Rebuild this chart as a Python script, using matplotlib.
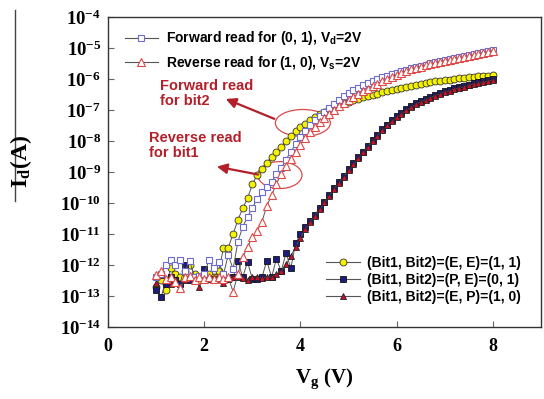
import numpy as np
import matplotlib
matplotlib.use("Agg")
import matplotlib.pyplot as plt
from matplotlib.lines import Line2D
from matplotlib.patches import Ellipse

plt.rcParams['font.family'] = ['Liberation Sans', 'DejaVu Sans']
plt.rcParams['mathtext.fontset'] = 'custom'
plt.rcParams['mathtext.rm'] = 'Liberation Serif:bold'
plt.rcParams['mathtext.bf'] = 'Liberation Serif:bold'
plt.rcParams['mathtext.it'] = 'Liberation Serif:bold'
plt.rcParams['mathtext.sf'] = 'Liberation Sans:bold'
plt.rcParams['mathtext.default'] = 'bf'

# gate sweep, 0.1 V steps
vg = np.linspace(1.0, 8.0, 71)

# log10(Id) for each read condition
log_id_ee = [
    -12.7, -12.5, -12.8, -12.1, -12.3, -12.4, -12.2, -12.0, -12.3, -12.5,
    -12.4, -12.3, -12.4, -12.2, -11.46, -11.44, -11.0, -10.55, -10.17, -9.85,
    -9.4, -9.1, -8.91, -8.7, -8.52, -8.35, -8.18, -8.0, -7.83, -7.68,
    -7.55, -7.44, -7.33, -7.23, -7.14, -7.05, -6.97, -6.9, -6.84, -6.79,
    -6.74, -6.69, -6.64, -6.59, -6.55, -6.51, -6.47, -6.43, -6.39, -6.36,
    -6.32, -6.29, -6.25, -6.22, -6.19, -6.15, -6.13, -6.1, -6.08, -6.06,
    -6.04, -6.02, -6.0, -5.98, -5.96, -5.95, -5.93, -5.92, -5.9, -5.89,
    -5.87]
log_id_pe = [
    -12.8, -13.03, -12.6, -12.4, -12.5, -12.6, -12.0, -12.5, -12.45, -12.4,
    -12.13, -12.45, -12.5, -12.45, -12.45, -12.45, -12.4, -11.87, -12.4, -11.9,
    -12.45, -12.45, -12.4, -11.86, -12.4, -11.8, -12.2, -11.62, -12.1, -11.3,
    -11.0, -10.78, -10.58, -10.38, -10.17, -9.96, -9.74, -9.52, -9.32, -9.12,
    -8.92, -8.72, -8.53, -8.34, -8.15, -7.97, -7.8, -7.63, -7.47, -7.33,
    -7.2, -7.09, -6.98, -6.88, -6.79, -6.71, -6.64, -6.57, -6.51, -6.45,
    -6.4, -6.35, -6.3, -6.26, -6.22, -6.18, -6.14, -6.11, -6.08, -6.04,
    -6.01]
log_id_ep = [
    -12.59, -12.32, -12.48, -12.6, -12.53, -12.75, -12.48, -12.38, -12.4, -12.7,
    -12.38, -12.43, -12.38, -12.45, -12.59, -12.43, -12.38, -12.4, -12.42, -12.48,
    -12.38, -12.4, -12.43, -12.4, -12.38, -12.3, -12.2, -11.98, -11.72, -11.42,
    -11.12, -10.84, -10.62, -10.42, -10.2, -9.98, -9.76, -9.55, -9.35, -9.15,
    -8.95, -8.75, -8.56, -8.37, -8.18, -8.0, -7.83, -7.66, -7.5, -7.36,
    -7.23, -7.12, -7.01, -6.91, -6.82, -6.74, -6.67, -6.6, -6.54, -6.48,
    -6.43, -6.38, -6.33, -6.29, -6.25, -6.21, -6.17, -6.14, -6.1, -6.07,
    -6.04]
log_id_fwd = [
    -12.4, -12.3, -12.0, -11.85, -12.0, -11.83, -12.2, -11.87, -12.4, -12.35,
    -12.3, -11.84, -12.1, -11.9, -12.3, -11.68, -12.13, -11.25, -10.77, -10.45,
    -10.15, -9.88, -9.66, -9.48, -9.33, -9.08, -8.88, -8.6, -8.35, -8.1,
    -7.87, -7.68, -7.5, -7.33, -7.18, -7.05, -6.93, -6.8, -6.67, -6.55,
    -6.44, -6.36, -6.28, -6.2, -6.13, -6.06, -6.0, -5.95, -5.9, -5.85,
    -5.8, -5.75, -5.7, -5.66, -5.62, -5.58, -5.54, -5.5, -5.46, -5.43,
    -5.4, -5.36, -5.33, -5.3, -5.27, -5.24, -5.2, -5.17, -5.13, -5.1,
    -5.07]
log_id_rev = [
    -12.32, -12.2, -12.45, -12.4, -12.55, -12.75, -12.4, -12.35, -12.5, -12.4,
    -12.45, -12.4, -12.45, -12.4, -12.45, -12.4, -12.86, -12.3, -11.75, -11.42,
    -11.1, -10.9, -10.6, -10.1, -9.75, -9.38, -9.08, -8.8, -8.58, -8.35,
    -8.12, -7.9, -7.72, -7.55, -7.4, -7.26, -7.13, -7.0, -6.88, -6.77,
    -6.67, -6.57, -6.48, -6.4, -6.32, -6.24, -6.16, -6.08, -6.0, -5.93,
    -5.86, -5.8, -5.74, -5.69, -5.64, -5.6, -5.56, -5.52, -5.48, -5.44,
    -5.41, -5.38, -5.35, -5.32, -5.29, -5.26, -5.22, -5.19, -5.15, -5.12,
    -5.09]

label_ee = '(Bit1, Bit2)=(E, E)=(1, 1)'
label_pe = '(Bit1, Bit2)=(P, E)=(0, 1)'
label_ep = '(Bit1, Bit2)=(E, P)=(1, 0)'
label_fwd = r'Forward read for (0, 1), V$_\mathsf{d}$=2V'
label_rev = r'Reverse read for (1, 0), V$_\mathsf{s}$=2V'

line_c = '#555555'
ann_red = '#b3202a'

fig = plt.figure(figsize=(5.44, 3.99), dpi=100)
ax = fig.add_axes([0.1985, 0.1805, 0.796, 0.777])

kw = dict(color=line_c, lw=0.7)
ax.plot(vg, 10 ** np.array(log_id_ee), marker='o', ms=5, mfc='#f5f200', mec='#333333', mew=0.6, **kw)
ax.plot(vg, 10 ** np.array(log_id_pe), marker='s', ms=4.6, mfc='#1c1c7e', mec='#111111', mew=0.6, **kw)
ax.plot(vg, 10 ** np.array(log_id_ep), marker='^', ms=5, mfc='#c8102e', mec='#222222', mew=0.6, **kw)
ax.plot(vg, 10 ** np.array(log_id_fwd), marker='s', ms=5, mfc='white', mec='#6c6cd0', mew=0.8, **kw)
ax.plot(vg, 10 ** np.array(log_id_rev), marker='^', ms=5.5, mfc='white', mec='#e04848', mew=0.8, **kw)

ax.set_yscale('log')
ax.set_xlim(0, 9)
ax.set_ylim(1e-14, 1e-4)
ax.set_xticks([0, 2, 4, 6, 8])
ax.set_xticklabels(['0', '2', '4', '6', '8'], family='Liberation Serif', weight='bold', fontsize=13)
yt = [10.0 ** k for k in range(-14, -3)]
ax.set_yticks(yt)
ax.set_yticklabels([r'$10^{%d}$' % k for k in range(-14, -3)], fontsize=13.5)
ax.minorticks_off()
ax.tick_params(direction='in', length=4, width=0.8, color='#666666', top=False, right=False)
ax.tick_params(axis='x', pad=8)
ax.tick_params(axis='y', pad=5)
for s in ax.spines.values():
    s.set_color('#333333')
    s.set_linewidth(1.0)

ax.set_xlabel(r'V$_{g}$ (V)', family='Liberation Serif', weight='bold', fontsize=15, labelpad=8)
fig.text(0.038, 0.595, r'I$_{d}$(A)', rotation=90, family='Liberation Serif', weight='bold',
         fontsize=17, ha='center', va='center')
fig.add_artist(Line2D([0.028, 0.028], [0.495, 0.975], color='#444444', lw=1.0))

# read-condition legend (upper left)
h_fwd = Line2D([], [], color=line_c, lw=0.8, marker='s', ms=5, mfc='white', mec='#6c6cd0', mew=0.8)
h_rev = Line2D([], [], color=line_c, lw=0.8, marker='^', ms=5.5, mfc='white', mec='#e04848', mew=0.8)
leg1 = ax.legend([h_fwd, h_rev], [label_fwd, label_rev], loc='upper left',
                 bbox_to_anchor=(0.01, 1.0), frameon=False,
                 prop={'weight': 'bold', 'size': 10}, handlelength=2.4, handletextpad=0.55,
                 labelspacing=0.45)
ax.add_artist(leg1)

# cell-state legend (lower right)
h_ee = Line2D([], [], color=line_c, lw=0.8, marker='o', ms=5, mfc='#f5f200', mec='#333333', mew=0.6)
h_pe = Line2D([], [], color=line_c, lw=0.8, marker='s', ms=4.6, mfc='#1c1c7e', mec='#111111', mew=0.6)
h_ep = Line2D([], [], color=line_c, lw=0.8, marker='^', ms=5, mfc='#c8102e', mec='#222222', mew=0.6)
ax.legend([h_ee, h_pe, h_ep], [label_ee, label_pe, label_ep], loc='upper left',
          bbox_to_anchor=(0.475, 0.27), frameon=False,
          prop={'weight': 'bold', 'size': 10}, handlelength=2.4, handletextpad=0.55,
          labelspacing=0.22)

# ellipses and arrows marking the read regions
ax.add_patch(Ellipse((0.450, 0.658), 0.127, 0.087, transform=ax.transAxes,
                     fill=False, ec='#d84a4a', lw=0.9))
ax.add_patch(Ellipse((0.397, 0.490), 0.102, 0.087, transform=ax.transAxes,
                     fill=False, ec='#d84a4a', lw=0.9))
arrow = dict(arrowstyle='-|>,head_length=0.6,head_width=0.3', color=ann_red, lw=1.6)
ax.annotate('', xy=(0.266, 0.739), xytext=(0.390, 0.668), xycoords='axes fraction',
            textcoords='axes fraction', arrowprops=arrow)
ax.annotate('', xy=(0.245, 0.519), xytext=(0.353, 0.490), xycoords='axes fraction',
            textcoords='axes fraction', arrowprops=arrow)
ax.text(0.120, 0.752, 'Forward read\nfor bit2', transform=ax.transAxes, color=ann_red,
        fontsize=10.5, weight='bold', va='center', ha='left', linespacing=1.1)
ax.text(0.095, 0.584, 'Reverse read\nfor bit1', transform=ax.transAxes, color=ann_red,
        fontsize=10.5, weight='bold', va='center', ha='left', linespacing=1.1)

fig.savefig('out.png', dpi=100)
